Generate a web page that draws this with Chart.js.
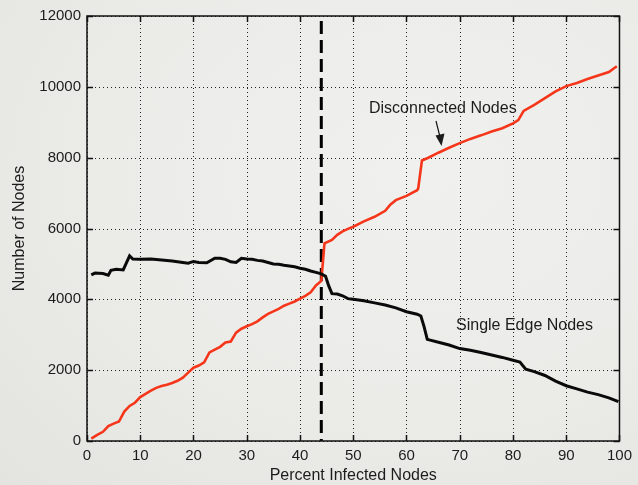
<!DOCTYPE html>
<html>
<head>
<meta charset="utf-8">
<script src="https://cdn.jsdelivr.net/npm/chart.js@4/dist/chart.umd.min.js"></script>
<style>
  html, body { margin: 0; padding: 0; }
  body { width: 638px; height: 485px; overflow: hidden;
         background: radial-gradient(ellipse at 65% 35%, #f0f0ee 0%, #ebebe8 55%, #e3e3df 100%); }
  #wrap { position: relative; width: 638px; height: 485px; }
</style>
</head>
<body>
<div id="wrap"><canvas id="c" width="638" height="485"></canvas></div>
<script>
// ---- Data ----
const disconnectedX = [0.8,2,3,4,5,6,7,8,9,10,11,12,13,14,15,16,17,18,19,20,21,22,23,24,25,26,27,28,29,30,31,32,33,34,35,36,37,38,39,40,41,42,43,44,44.6,46,47,48,49,50,52,54,56,57,58,60,62,62.2,62.9,64,66,68,70,72,74,76,78,80,81,82,84,86,88,90,92,94,96,98,99.5];
const disconnectedY = [70,180,260,420,490,550,830,990,1080,1240,1330,1420,1500,1550,1590,1640,1700,1790,1930,2070,2130,2220,2500,2580,2660,2780,2810,3060,3170,3240,3300,3380,3490,3590,3660,3730,3820,3880,3940,4020,4100,4200,4390,4520,5580,5680,5820,5920,5990,6050,6200,6330,6500,6680,6800,6920,7080,7130,7920,7990,8140,8280,8410,8530,8630,8740,8830,8970,9060,9320,9490,9680,9870,10020,10110,10220,10320,10420,10580];

const singleEdgeX = [0.8,1.5,3,4,4.5,5.5,6.8,8,8.6,10,12,14,16,18,19,20,21,22.5,24,25,26,27,28,29,30,31,32,33,34,35,36,37,38,39,40,41,42,43,44,44.8,45.4,46,47,48,49,50,52,54,56,58,60,62,62.7,63.3,63.9,66,68,70,72,74,76,78,80,81.3,82.4,84,86,88,90,92,94,96,98,99.8];
const singleEdgeY = [4690,4740,4730,4680,4820,4850,4830,5230,5140,5130,5140,5110,5080,5040,5020,5070,5040,5030,5160,5160,5130,5060,5040,5160,5140,5130,5100,5080,5040,5000,4990,4960,4940,4920,4880,4850,4800,4760,4720,4650,4380,4160,4150,4100,4020,4000,3960,3900,3840,3760,3650,3580,3530,3230,2870,2790,2710,2610,2560,2500,2430,2360,2280,2230,2030,1960,1850,1690,1560,1470,1380,1310,1220,1110];

const xTicks = [0,10,20,30,40,50,60,70,80,90,100];
const yTicks = [0,2000,4000,6000,8000,10000,12000];
const thresholdX = 44;
const labelDisconnected = "Disconnected Nodes";
const labelSingleEdge = "Single Edge Nodes";
const xTitle = "Percent Infected Nodes";
const yTitle = "Number of Nodes";

const toPts = (xs, ys) => xs.map((x, i) => ({x: x, y: ys[i]}));
const FONT = "'Liberation Sans', Arial, Helvetica, sans-serif";
const INK = '#1c1c1c';

const decor = {
  id: 'decor',
  beforeDatasetsDraw(chart) {
    const {ctx, chartArea: a, scales: {x, y}} = chart;
    ctx.save();
    // dotted grid
    ctx.strokeStyle = '#222';
    ctx.lineWidth = 1;
    ctx.setLineDash([1, 3]);
    ctx.beginPath();
    xTicks.forEach(v => {
      const p = Math.round(x.getPixelForValue(v)) + 0.5;
      ctx.moveTo(p, a.bottom); ctx.lineTo(p, a.top);
    });
    yTicks.forEach(v => {
      const p = Math.round(y.getPixelForValue(v)) + 0.5;
      ctx.moveTo(a.left, p); ctx.lineTo(a.right, p);
    });
    ctx.stroke();
    // dashed threshold line
    const px = x.getPixelForValue(thresholdX);
    ctx.strokeStyle = '#000';
    ctx.lineWidth = 3;
    ctx.setLineDash([13, 6]);
    ctx.beginPath();
    ctx.moveTo(px, a.top + 5);
    ctx.lineTo(px, a.bottom);
    ctx.stroke();
    ctx.restore();
  },
  afterDatasetsDraw(chart) {
    const {ctx, chartArea: a, scales: {x, y}} = chart;
    ctx.save();
    // frame
    ctx.strokeStyle = '#111';
    ctx.lineWidth = 1.5;
    ctx.strokeRect(a.left, a.top, a.right - a.left, a.bottom - a.top);
    // inward ticks
    ctx.beginPath();
    xTicks.forEach(v => {
      const p = Math.round(x.getPixelForValue(v)) + 0.5;
      ctx.moveTo(p, a.bottom); ctx.lineTo(p, a.bottom - 6);
      ctx.moveTo(p, a.top); ctx.lineTo(p, a.top + 6);
    });
    yTicks.forEach(v => {
      const p = Math.round(y.getPixelForValue(v)) + 0.5;
      ctx.moveTo(a.left, p); ctx.lineTo(a.left + 6, p);
      ctx.moveTo(a.right, p); ctx.lineTo(a.right - 6, p);
    });
    ctx.stroke();
    // annotations
    ctx.fillStyle = INK;
    ctx.font = '16px ' + FONT;
    ctx.textBaseline = 'alphabetic';
    ctx.textAlign = 'left';
    ctx.fillText(labelDisconnected, 369, 113);
    ctx.fillText(labelSingleEdge, 456, 330);
    // arrow
    ctx.strokeStyle = '#111';
    ctx.lineWidth = 1.2;
    ctx.beginPath();
    ctx.moveTo(436, 121);
    ctx.lineTo(440, 137);
    ctx.stroke();
    ctx.beginPath();
    ctx.moveTo(441.5, 146);
    ctx.lineTo(435.5, 135.5);
    ctx.lineTo(444.5, 133.5);
    ctx.closePath();
    ctx.fill();
    ctx.restore();
  }
};

new Chart(document.getElementById('c'), {
  type: 'scatter',
  data: {
    datasets: [
      { label: labelSingleEdge, data: toPts(singleEdgeX, singleEdgeY), showLine: true,
        borderColor: '#0a0a0a', borderWidth: 3, pointRadius: 0, tension: 0, fill: false },
      { label: labelDisconnected, data: toPts(disconnectedX, disconnectedY), showLine: true,
        borderColor: '#f5361a', borderWidth: 2.6, pointRadius: 0, tension: 0, fill: false }
    ]
  },
  options: {
    responsive: false,
    animation: false,
    events: [],
    layout: { padding: { left: 0, right: 12, top: 16, bottom: 0 } },
    plugins: { legend: { display: false }, tooltip: { enabled: false } },
    scales: {
      x: {
        type: 'linear', min: 0, max: 100,
        afterFit(s) { s.height = 44; },
        afterBuildTicks(s) { s.ticks = xTicks.map(v => ({value: v})); },
        grid: { display: false, drawTicks: false },
        border: { display: false },
        ticks: { color: INK, font: { family: FONT, size: 15 }, padding: 6, maxRotation: 0,
                 callback: v => String(v) },
        title: { display: true, text: xTitle, color: INK, font: { family: FONT, size: 16 },
                 padding: { top: 0, bottom: 0 } }
      },
      y: {
        type: 'linear', min: 0, max: 12000,
        afterFit(s) { s.width = 87; },
        afterBuildTicks(s) { s.ticks = yTicks.map(v => ({value: v})); },
        grid: { display: false, drawTicks: false },
        border: { display: false },
        ticks: { color: INK, font: { family: FONT, size: 15 }, padding: 6,
                 callback: v => String(v) },
        title: { display: true, text: yTitle, color: INK, font: { family: FONT, size: 16 },
                 padding: { top: 10, bottom: 0 } }
      }
    }
  },
  plugins: [decor]
});
</script>
</body>
</html>
